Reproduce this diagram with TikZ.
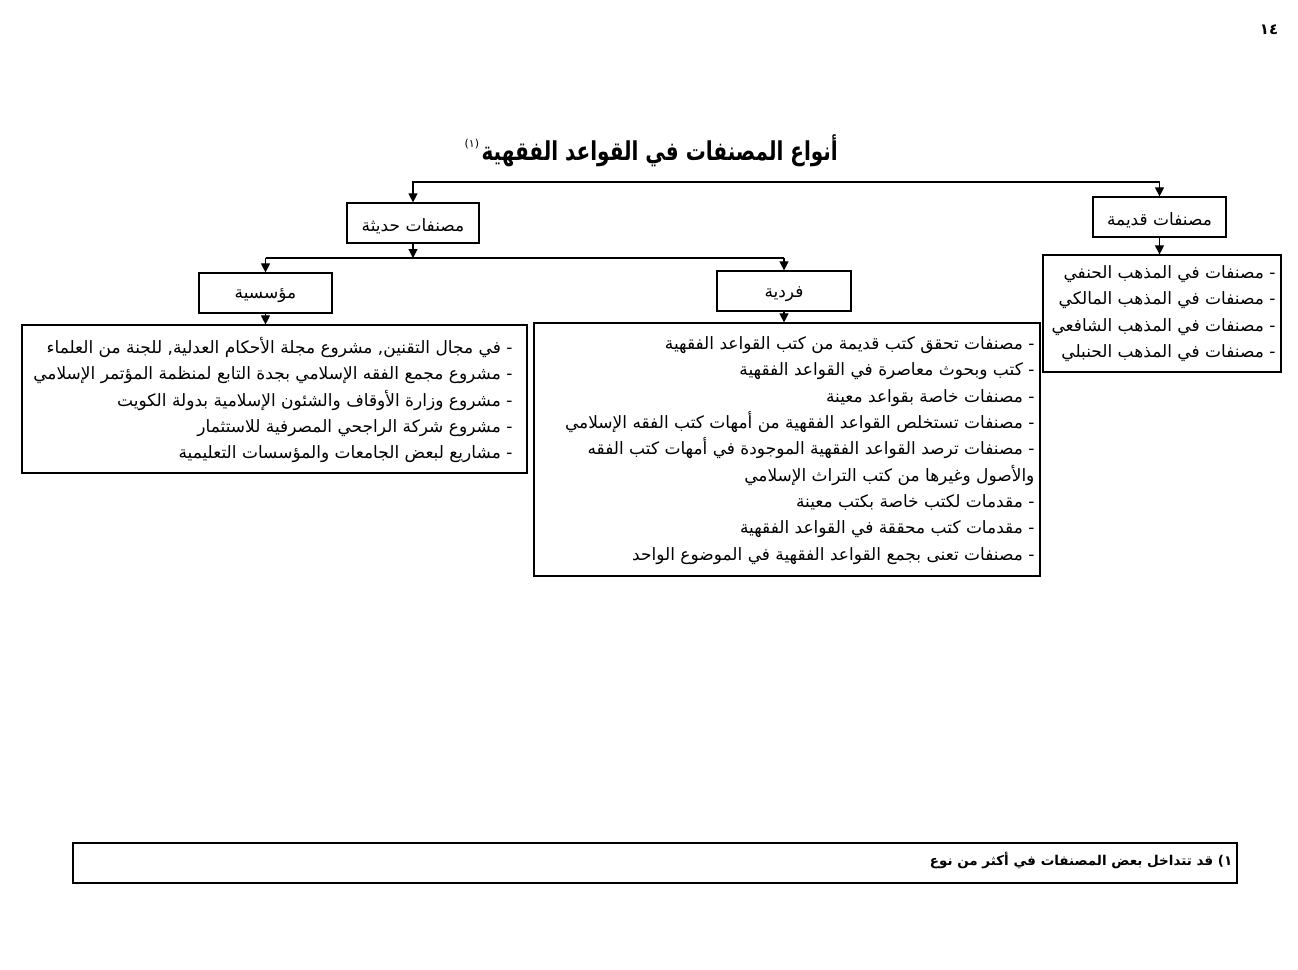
\documentclass[tikz,border=0pt]{standalone}
\usepackage{fontspec}
\usetikzlibrary{arrows.meta}
\newfontfamily\ar[Script=Arabic]{DejaVu Sans}
\newfontfamily\arl{DejaVu Sans}
\TeXXeTstate=1
\tikzset{
  box/.style={draw, line width=1.2pt, inner sep=0pt},
  arr/.style={line width=1.1pt, -{Triangle[length=9pt,width=9pt]}},
  ln/.style={line width=1.1pt},
  lst/.style={font=\ar\fontsize{17}{26.3}\selectfont, align=right, inner sep=0pt, anchor=east},
  lbl/.style={font=\ar\fontsize{17}{20}\selectfont, inner sep=0pt},
}
\newcommand{\RL}[1]{\beginR #1\endR}
\newcommand{\LB}[1]{\raisebox{-3pt}[\height][\depth]{\beginR #1\endR}}
\begin{document}
\begin{tikzpicture}[x=1pt,y=-1pt]
\useasboundingbox (0,0) rectangle (1298,969);
% page number
\node[font=\arl\bfseries\fontsize{15}{18}\selectfont] (pg) at (1269,30) {١٤};
% title
\node[font=\ar\bfseries\fontsize{20}{28}\selectfont, anchor=east, inner sep=0pt] (title) at (838,151) {\scalebox{1}[1.3]{\RL{أنواع المصنفات في القواعد الفقهية}}};
\node[font=\arl\fontsize{11}{12}\selectfont, anchor=east, inner sep=0pt] (fn) at ([xshift=-2pt,yshift=7pt]title.west) {(١)};
% boxes
\node[box, minimum width=133pt, minimum height=40pt, lbl] (qad) at (1159.5,217) {\LB{مصنفات قديمة}};
\node[box, minimum width=132pt, minimum height=40pt, lbl] (had) at (413,223) {\LB{مصنفات حديثة}};
\node[box, minimum width=134pt, minimum height=40pt, lbl] (far) at (784,291) {\LB{فردية}};
\node[box, minimum width=133pt, minimum height=40pt, lbl] (mua) at (265.5,293) {\LB{مؤسسية}};
\node[box, minimum width=238pt, minimum height=117pt] (ql) at (1162,313.5) {};
\node[box, minimum width=506pt, minimum height=253pt] (fl) at (787,449.5) {};
\node[box, minimum width=505pt, minimum height=148pt] (ml) at (274.5,399) {};
\node[box, minimum width=1164pt, minimum height=40pt] (foot) at (655,863) {};
% list texts
\node[lst] (qlt) at ([xshift=-6pt,yshift=0pt]ql.east) {%
\RL{- مصنفات في المذهب الحنفي}\\
\RL{- مصنفات في المذهب المالكي}\\
\RL{- مصنفات في المذهب الشافعي}\\
\RL{- مصنفات في المذهب الحنبلي}};
\node[lst] (flt) at ([xshift=-6pt,yshift=-1pt]fl.east) {%
\RL{- مصنفات تحقق كتب قديمة من كتب القواعد الفقهية}\\
\RL{- كتب وبحوث معاصرة في القواعد الفقهية}\\
\RL{- مصنفات خاصة بقواعد معينة}\\
\RL{- مصنفات تستخلص القواعد الفقهية من أمهات كتب الفقه الإسلامي}\\
\RL{- مصنفات ترصد القواعد الفقهية الموجودة في أمهات كتب الفقه}\\
\RL{والأصول وغيرها من كتب التراث الإسلامي}\\
\RL{- مقدمات لكتب خاصة بكتب معينة}\\
\RL{- مقدمات كتب محققة في القواعد الفقهية}\\
\RL{- مصنفات تعنى بجمع القواعد الفقهية في الموضوع الواحد}};
\node[lst] (mlt) at ([xshift=-15pt,yshift=-1pt]ml.east) {%
\RL{- في مجال التقنين, مشروع مجلة الأحكام العدلية, للجنة من العلماء}\\
\RL{- مشروع مجمع الفقه الإسلامي بجدة التابع لمنظمة المؤتمر الإسلامي}\\
\RL{- مشروع وزارة الأوقاف والشئون الإسلامية بدولة الكويت}\\
\RL{- مشروع شركة الراجحي المصرفية للاستثمار}\\
\RL{- مشاريع لبعض الجامعات والمؤسسات التعليمية}};
% footnote text
\node[font=\ar\bfseries\fontsize{13.5}{16}\selectfont, anchor=east, inner sep=0pt] (ft) at ([xshift=-5pt,yshift=3pt]foot.east) {\RL{قد تتداخل بعض المصنفات في أكثر من نوع}\ {\arl (١}};
% connectors
\coordinate (tl) at (413,182);
\coordinate (tr) at (1159.5,182);
\draw[arr] (tr) -- (qad.north);
\draw[arr] (tr) -- (tl) -- (had.north);
\coordinate (ml0) at (265.5,258);
\coordinate (mr0) at (784,258);
\coordinate (mm0) at (413,258);
\draw[arr] (had.south) -- (mm0);
\draw[ln] (ml0) -- (mr0);
\draw[arr] (ml0) -- (mua.north);
\draw[arr] (mr0) -- (far.north);
\draw[arr] (qad.south) -- (qad.south |- ql.north);
\draw[arr] (far.south) -- (far.south |- fl.north);
\draw[arr] (mua.south) -- (mua.south |- ml.north);
\end{tikzpicture}
\end{document}
